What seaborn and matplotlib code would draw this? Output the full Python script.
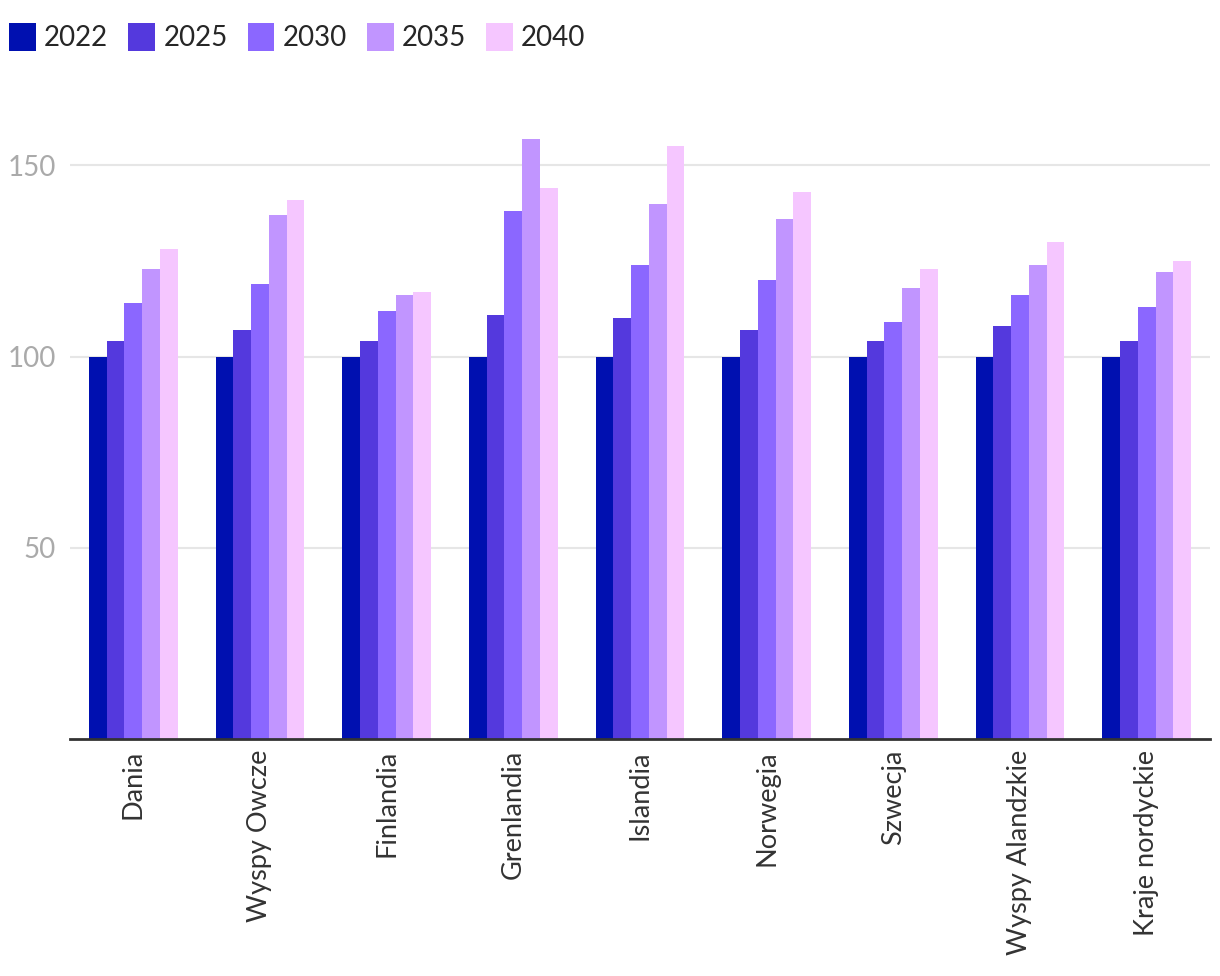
import pandas as pd
import seaborn as sns
import matplotlib.pyplot as plt
from matplotlib.patches import Patch

# Dane (indeks, 2022 = 100)
kraje = ["Dania", "Wyspy Owcze", "Finlandia", "Grenlandia", "Islandia",
         "Norwegia", "Szwecja", "Wyspy Alandzkie", "Kraje nordyckie"]
lata = ["2022", "2025", "2030", "2035", "2040"]
v2022 = [100, 100, 100, 100, 100, 100, 100, 100, 100]
v2025 = [104, 107, 104, 111, 110, 107, 104, 108, 104]
v2030 = [114, 119, 112, 138, 124, 120, 109, 116, 113]
v2035 = [123, 137, 116, 157, 140, 136, 118, 124, 122]
v2040 = [128, 141, 117, 144, 155, 143, 123, 130, 125]
kolory = ["#0010b0", "#5439dd", "#8b67ff", "#c195ff", "#f5c6ff"]

wartosci = [v2022, v2025, v2030, v2035, v2040]
df = pd.DataFrame({
    "kraj": kraje * len(lata),
    "rok": [r for r in lata for _ in kraje],
    "wartosc": [x for serie in wartosci for x in serie],
})

sns.set_style("white")
plt.rcParams["font.family"] = ["Lato", "DejaVu Sans"]

fig = plt.figure(figsize=(12.2, 9.76), dpi=100)
ax = fig.add_axes([70 / 1220, 237 / 976, 1140 / 1220, 631 / 976])

sns.barplot(data=df, x="kraj", y="wartosc", hue="rok", palette=kolory,
            width=0.7, saturation=1, linewidth=0, ax=ax, legend=False)

ax.set_ylim(0, 165)
ax.set_xlim(-0.5, len(kraje) - 0.5)
ax.set_yticks([50, 100, 150])
ax.yaxis.grid(True, color="#e6e6e6", linewidth=1.5)
ax.set_axisbelow(True)
ax.set_xlabel("")
ax.set_ylabel("")
for s in ["top", "right", "left"]:
    ax.spines[s].set_visible(False)
ax.spines["bottom"].set_color("#333333")
ax.spines["bottom"].set_linewidth(2)
ax.tick_params(axis="y", length=0, labelsize=20, labelcolor="#aaaaaa", pad=10)
ax.tick_params(axis="x", length=0, labelsize=19.5, labelcolor="#333333", pad=8)
plt.setp(ax.get_xticklabels(), rotation=90, ha="center", va="top")

# legenda u góry po lewej
uchwyty = [Patch(facecolor=c, edgecolor="none", label=r) for c, r in zip(kolory, lata)]
fig.legend(handles=uchwyty, loc="upper left", bbox_to_anchor=(0.0, 0.986),
           ncol=5, frameon=False, fontsize=20, handlelength=0.97, handleheight=1.16,
           handletextpad=0.29, columnspacing=0.72, borderpad=0.15, borderaxespad=0.18)

fig.savefig("out.png", dpi=100, facecolor="white")
